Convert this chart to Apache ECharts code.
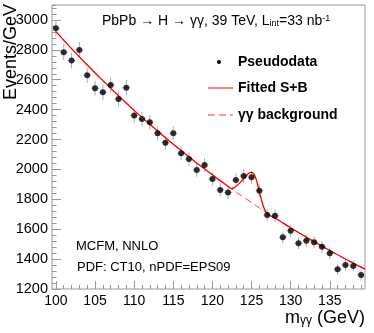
<!DOCTYPE html>
<html><head><meta charset="utf-8">
<script src="https://cdn.jsdelivr.net/npm/echarts@6/dist/echarts.min.js"></script>
<style>html,body{margin:0;padding:0;background:#fff}#c{width:374px;height:333px}</style>
</head><body><div id="c"></div>
<script>
// Pseudodata (m_gg in GeV, Events/GeV)
const massBins = [100,101,102,103,104,105,106,107,108,109,110,111,112,113,114,115,116,117,118,119,
                  120,121,122,123,124,125,126,127,128,129,130,131,132,133,134,135,136,137,138,139];
const events   = [2944,2784,2728,2799,2630,2543,2516,2565,2471,2547,2360,2337,2315,2242,2179,2242,2108,2070,1996,2030,
                  1936,1863,1845,1929,1956,1947,1858,1695,1690,1546,1590,1506,1523,1512,1483,1439,1332,1361,1354,1294];
const errors   = [54,53,52,53,51,50,50,51,50,50,49,48,48,47,47,47,46,45,45,45,
                  44,43,43,44,44,44,43,41,41,39,40,39,39,39,39,38,36,37,37,36];
// gamma-gamma background curve
const bgX = [100,102,104,106,108,110,112,114,116,118,120,122,124,126,128,130,132,134,136,138,139.5];
const bgY = [2922,2808,2699,2594,2493,2395,2302,2212,2126,2043,1964,1887,1814,1743,1675,1610,1547,1487,1429,1373,1333];
// Fitted S+B curve
const sbX = [100,102,104,106,108,110,112,114,116,118,120,121,122,122.4,122.8,123.2,123.6,124,124.3,124.6,124.9,125.2,125.5,125.8,126.1,126.4,126.7,127,127.4,128,130,132,134,136,138,139.5];
const sbY = [2922,2808,2699,2594,2493,2395,2302,2212,2126,2043,1964,1925,1887,1872,1878,1895,1915,1938,1956,1972,1980,1976,1948,1895,1830,1772,1728,1704,1690,1675,1610,1547,1487,1429,1373,1333];
const xMajor = [100,105,110,115,120,125,130,135];
const xMinor = [100,101,102,103,104,105,106,107,108,109,110,111,112,113,114,115,116,117,118,119,120,121,122,123,124,125,126,127,128,129,130,131,132,133,134,135,136,137,138,139];
const yMajor = [1200,1400,1600,1800,2000,2200,2400,2600,2800,3000];

const FONT = 'Liberation Sans, Arial, Helvetica, sans-serif';
const chart = echarts.init(document.getElementById('c'), null, {renderer:'canvas'});
const gray = '#999';
const pts = massBins.map((m,i)=>[m, events[i]]);
const errData = massBins.map((m,i)=>[m, events[i], errors[i]]);

chart.setOption({
  animation:false,
  grid:{left:52,right:9,top:5,bottom:44,show:true,borderColor:gray,borderWidth:1,backgroundColor:'transparent'},
  xAxis:[{
    type:'value',min:99.5,max:139.5,
    axisLine:{show:false},
    splitLine:{show:false},
    axisTick:{show:true,inside:true,length:8,lineStyle:{color:gray},customValues:xMajor},
    axisLabel:{color:'#000',fontFamily:FONT,fontSize:14,margin:5,customValues:xMajor,formatter:v=>String(v)}
  },{
    type:'value',min:99.5,max:139.5,position:'bottom',
    axisLine:{show:false},splitLine:{show:false},
    axisTick:{show:true,inside:true,length:4,lineStyle:{color:gray},customValues:xMinor},
    axisLabel:{show:false}
  }],
  yAxis:[{
    type:'value',min:1200,max:3100,interval:200,
    axisLine:{show:false},splitLine:{show:false},
    axisTick:{show:true,inside:true,length:9,lineStyle:{color:gray},customValues:yMajor},
    axisLabel:{color:'#000',fontFamily:FONT,fontSize:14.5,margin:4,customValues:yMajor,formatter:v=>String(v)}
  },{
    type:'value',min:1200,max:3100,interval:40,position:'left',
    axisLine:{show:false},splitLine:{show:false},
    axisTick:{show:true,inside:true,length:4.5,lineStyle:{color:gray}},
    axisLabel:{show:false}
  }],
  series:[
    {type:'custom',xAxisIndex:0,yAxisIndex:0,z:2,
     data:errData,
     renderItem:function(params,api){
       const x=api.value(0),y=api.value(1),e=api.value(2);
       const p0=api.coord([x,y+e]),p1=api.coord([x,y-e]);
       const h0=api.coord([x-0.5,y]),h1=api.coord([x+0.5,y]);
       const st={stroke:'#aaa',lineWidth:1};
       return {type:'group',children:[
         {type:'line',shape:{x1:p0[0],y1:p0[1],x2:p1[0],y2:p1[1]},style:st},
         {type:'line',shape:{x1:h0[0],y1:h0[1],x2:h1[0],y2:h1[1]},style:st}
       ]};
     }},
    {type:'line',name:'bg',data:bgX.map((x,i)=>[x,bgY[i]]),smooth:true,showSymbol:false,z:3,
     lineStyle:{color:'#ff3333',width:1,type:[7,4]}},
    {type:'line',name:'sb',data:sbX.map((x,i)=>[x,sbY[i]]),smooth:0.3,showSymbol:false,z:4,
     lineStyle:{color:'#ff0000',width:1.3}},
    {type:'scatter',data:pts,symbol:'circle',symbolSize:6,z:5,itemStyle:{color:'#000'}}
  ],
  graphic:[
    {type:'text',left:2,top:4,rotation:Math.PI/2,originX:0,originY:0,
     style:{text:'Events/GeV',fontFamily:FONT,fontSize:18,fill:'#000'}},
    {type:'text',z:10,style:{x:102,y:21,text:'PbPb \u2192 H \u2192 \u03b3\u03b3, 39 TeV, L{sub|int}=33 nb{sup|-1}',
      fontFamily:FONT,fontSize:14,fill:'#000',verticalAlign:'middle',
      rich:{sub:{fontSize:9,fontFamily:FONT,verticalAlign:'bottom',lineHeight:9,padding:[0,0,0,0]},
            sup:{fontSize:9,fontFamily:FONT,verticalAlign:'top',lineHeight:9}}}},
    {type:'circle',shape:{cx:219,cy:62,r:2},style:{fill:'#000'}},
    {type:'text',style:{x:238,y:62,text:'Pseudodata',fontFamily:FONT,fontSize:14,fontWeight:'bold',fill:'#000',verticalAlign:'middle'}},
    {type:'line',shape:{x1:208,y1:88,x2:233,y2:88},style:{stroke:'#ff0000',lineWidth:1}},
    {type:'text',style:{x:238,y:88,text:'Fitted S+B',fontFamily:FONT,fontSize:14,fontWeight:'bold',fill:'#000',verticalAlign:'middle'}},
    {type:'line',shape:{x1:208,y1:115,x2:233,y2:115},style:{stroke:'#ff3333',lineWidth:1,lineDash:[7,4]}},
    {type:'text',style:{x:238,y:115,text:'\u03b3\u03b3 background',fontFamily:FONT,fontSize:14,fontWeight:'bold',fill:'#000',verticalAlign:'middle'}},
    {type:'text',style:{x:76,y:246,text:'MCFM, NNLO',fontFamily:FONT,fontSize:13,fill:'#000',verticalAlign:'middle'}},
    {type:'text',style:{x:77,y:267,text:'PDF: CT10, nPDF=EPS09',fontFamily:FONT,fontSize:13,fill:'#000',verticalAlign:'middle'}},
    {type:'text',style:{x:365,y:318,align:'right',verticalAlign:'middle',text:'m{sub|\u03b3\u03b3} (GeV)',fontFamily:FONT,fontSize:18,fill:'#000',
      rich:{sub:{fontSize:12,fontFamily:FONT,verticalAlign:'bottom',lineHeight:10}}}}
  ]
});
</script></body></html>
